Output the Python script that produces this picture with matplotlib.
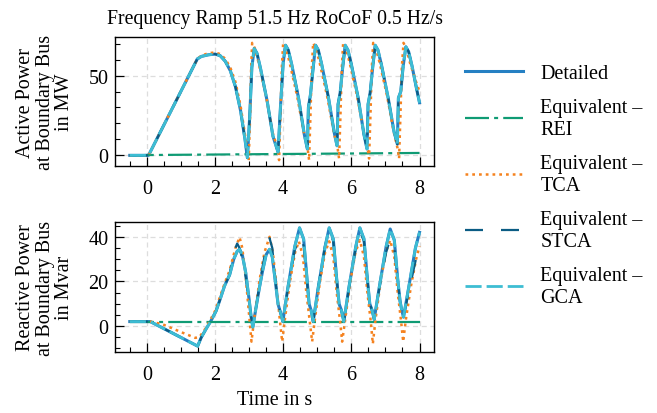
import matplotlib
matplotlib.use("Agg")
import matplotlib.pyplot as plt
from matplotlib.ticker import AutoMinorLocator

plt.rcParams['font.family'] = ['Liberation Serif', 'DejaVu Serif']
plt.rcParams['mathtext.fontset'] = 'stix'

# ---------------- data ----------------
title = "Frequency Ramp 51.5 Hz RoCoF 0.5 Hz/s"
labels = ["Detailed", "Equivalent –\nREI", "Equivalent –\nTCA",
          "Equivalent –\nSTCA", "Equivalent –\nGCA"]

# Active power, Detailed (also followed by STCA and GCA)
t_p_det = [-0.5, 0.05, 1.48, 1.6, 1.8, 2.0, 2.15, 2.3, 2.45, 2.6, 2.75, 2.88, 2.95,
           3.02, 3.08, 3.15, 3.23, 3.33, 3.53, 3.70, 3.85,
           3.92, 4.0, 4.07, 4.15, 4.25, 4.45, 4.62, 4.71,
           4.74, 4.80, 4.88, 4.95, 5.03, 5.13, 5.33, 5.50, 5.58,
           5.61, 5.67, 5.75, 5.82, 5.90, 6.0, 6.2, 6.37, 6.46,
           6.49, 6.55, 6.63, 6.70, 6.78, 6.88, 7.08, 7.25, 7.35,
           7.38, 7.45, 7.52, 7.60, 7.68, 7.78, 7.92, 8.0]
p_det = [0, 0, 60.4, 62, 63, 63.5, 62.5, 59, 53, 43, 28, 10, -1.5,
         25, 55, 67, 64, 55, 34, 12, 2,
         30, 58, 69, 66, 57, 36, 13, 4,
         30, 38, 55, 69, 66, 57, 36, 14, 6,
         32, 39, 56, 69, 66, 57, 36, 13, 4,
         32, 39, 56, 69, 66, 57, 36, 15, 7,
         36, 40, 56, 68, 65, 56, 41, 33]

t_p_stca = t_p_det
p_stca = [0, 0, 60.4, 62, 63, 63.5, 62.5, 59, 53, 43, 28, 10, -1.5,
          25, 55, 67, 64, 55, 34, 12, 2,
          30, 58, 69, 66, 57, 36, 13, 4,
          30, 38, 55, 69, 66, 57, 36, 14, 6,
          32, 39, 56, 69, 66, 57, 36, 13, 4,
          32, 39, 56, 69, 66, 57, 36, 15, 7,
          36, 40, 56, 68, 65, 56, 41, 33]
t_p_gca = t_p_det
p_gca = p_det

t_p_tca = [-0.5, 0.05, 1.48, 1.6, 1.8, 2.0, 2.15, 2.3, 2.45, 2.6, 2.75, 2.88, 2.95, 2.99,
           3.03, 3.06, 3.09, 3.17, 3.28, 3.5, 3.68, 3.84, 3.88,
           3.92, 3.96, 4.0, 4.08, 4.19, 4.41, 4.6, 4.72, 4.76,
           4.80, 4.84, 4.88, 4.96, 5.07, 5.29, 5.48, 5.6, 5.64,
           5.68, 5.72, 5.76, 5.84, 5.95, 6.17, 6.36, 6.48, 6.52,
           6.56, 6.60, 6.64, 6.72, 6.83, 7.05, 7.24, 7.36, 7.40,
           7.44, 7.48, 7.53, 7.61, 7.72, 7.9, 8.0]
p_tca = [0, 0, 60.4, 62.5, 64, 64.5, 63.5, 60.5, 55, 46, 31, 13, 3, -3,
         25, 55, 70.5, 67, 58, 37, 15, 4, -3,
         25, 55, 70.5, 67, 58, 37, 15, 4, -3,
         25, 55, 70.5, 67, 58, 37, 15, 4, -2,
         25, 55, 70.5, 67, 58, 37, 15, 4, -2,
         25, 55, 70.5, 67, 58, 37, 15, 4, -2,
         25, 55, 70.5, 67, 58, 46, 40]

t_p_rei = [-0.5, 0.0, 8.0]
p_rei = [0, 0.2, 1.5]

# Reactive power
t_q_det = [-0.5, 0.1, 1.49, 1.6, 1.75, 1.88, 2.03, 2.15, 2.28, 2.43, 2.55, 2.65, 2.72, 2.8, 2.9, 3.0, 3.06, 3.11,
           3.2, 3.3, 3.4, 3.5, 3.6, 3.68, 3.77, 3.85, 3.94, 3.99,
           4.14, 4.34, 4.48, 4.6, 4.7, 4.76, 4.82, 4.88,
           5.03, 5.23, 5.35, 5.47, 5.57, 5.64, 5.71, 5.78,
           5.93, 6.13, 6.25, 6.37, 6.47, 6.54, 6.61, 6.67,
           6.82, 7.02, 7.14, 7.26, 7.36, 7.43, 7.48, 7.53,
           7.68, 7.88, 8.0]
q_det = [2, 2, -9, -5, -1, 2.3, 6.7, 12, 18, 23, 30, 33.5, 34.4, 32, 24, 12, 4, -0.5,
         8, 17, 25, 32, 34.4, 31, 20, 9.8, 5, 2,
         17.4, 35.6, 44, 39, 21, 10, 7, 2,
         17.4, 35.6, 44, 39, 21, 10, 7, 2,
         17.4, 35.6, 44, 39, 21, 10, 7, 3,
         17.4, 35.6, 43.5, 38.5, 21, 11, 7, 4,
         17, 35, 42]

t_q_stca = t_q_det
q_stca = [2, 2, -9, -5, -1, 2.3, 6.7, 12, 18, 23, 33, 37, 35, 30, 22, 11, 4, -0.5,
          8, 18, 27, 35, 39.4, 35, 21, 10, 5, 2,
          17, 34, 40, 36, 20, 10, 7, 2,
          17.4, 36, 43, 38, 21, 10, 7, 2,
          17, 35, 42.5, 38, 21, 10, 7, 3,
          17, 33, 39, 35, 20, 11, 7, 4,
          15, 29, 36]
t_q_gca = t_q_det
q_gca = q_det

t_q_tca = [-0.5, 0.1, 0.46, 1.05, 1.42, 1.54, 1.74, 2.0, 2.28, 2.43, 2.6, 2.72, 2.8, 2.9, 3.0, 3.07,
           3.14, 3.3, 3.45, 3.6, 3.7, 3.8, 3.9, 3.97,
           4.05, 4.2, 4.35, 4.46, 4.58, 4.68, 4.78, 4.85,
           4.93, 5.08, 5.23, 5.35, 5.47, 5.57, 5.67, 5.73,
           5.82, 5.97, 6.12, 6.25, 6.37, 6.47, 6.57, 6.63,
           6.71, 6.86, 7.01, 7.14, 7.26, 7.36, 7.46, 7.52,
           7.6, 7.75, 7.9, 8.0]
q_tca = [2, 2, 0.8, -3, -5.3, -5, -0.7, 6.7, 19, 25, 35, 39.8, 35, 22, 5, -7,
         2, 20, 33, 40, 33, 18, 3, -7,
         3, 20, 33, 38, 31, 15, 2, -7,
         3, 20, 33, 38, 31, 15, 2, -7,
         3, 20, 33, 38.5, 31, 15, 2, -8,
         3, 20, 33, 38.5, 31, 15, 2, -7,
         3, 18, 30, 35.8]

t_q_rei = [-0.5, 8.0]
q_rei = [2, 2]

xticks = [0, 2, 4, 6, 8]
yticks_p = [0, 50]
yticks_q = [0, 20, 40]

# ---------------- styles ----------------
c_det, c_rei, c_tca, c_stca, c_gca = '#2580c3', '#0f9b74', '#f5821f', '#0b5c84', '#3dbdd3'
lw = 1.6
fs = 14.5

fig = plt.figure(figsize=(6.57, 4.14), dpi=100)
ax1 = fig.add_axes([0.1755, 0.5966, 0.4851, 0.3116])
ax2 = fig.add_axes([0.1755, 0.1473, 0.4851, 0.3141])

def draw(ax, det, rei, tca, stca, gca):
    h = []
    h += ax.plot(*det, color=c_det, lw=2.2, ls='-')
    h += ax.plot(*rei, color=c_rei, lw=lw, dashes=(10.8, 2.3, 1.8, 2.3))
    h += ax.plot(*tca, color=c_tca, lw=1.8, dashes=(1.1, 1.6))
    h += ax.plot(*stca, color=c_stca, lw=lw, dashes=(8.1, 8.1))
    h += ax.plot(*gca, color=c_gca, lw=2.0, dashes=(5.8, 1.8))
    return h

handles = draw(ax1, (t_p_det, p_det), (t_p_rei, p_rei), (t_p_tca, p_tca),
               (t_p_stca, p_stca), (t_p_gca, p_gca))
draw(ax2, (t_q_det, q_det), (t_q_rei, q_rei), (t_q_tca, q_tca),
     (t_q_stca, q_stca), (t_q_gca, q_gca))

for ax, yt in ((ax1, yticks_p), (ax2, yticks_q)):
    ax.set_xticks(xticks)
    ax.set_yticks(yt)
    ax.xaxis.set_minor_locator(AutoMinorLocator())
    ax.yaxis.set_minor_locator(AutoMinorLocator())
    ax.tick_params(which='both', direction='in', labelsize=fs, top=False, right=False)
    ax.tick_params(which='major', length=6.5, width=0.9)
    ax.tick_params(which='minor', length=3.5, width=0.8)
    ax.tick_params(axis='x', which='both', pad=9.5)
    ax.tick_params(axis='y', which='both', pad=5)
    ax.grid(True, which='major', ls=(0, (4, 3)), color='#dddddd', lw=0.9)
    ax.set_axisbelow(True)
    for s in ax.spines.values():
        s.set_linewidth(1.0)
    ax.margins(x=0.05, y=0.05)

ax1.set_title(title, fontsize=14.2, pad=10)
ax1.set_ylabel("Active Power\nat Boundary Bus\nin MW", fontsize=fs, linespacing=1.05, labelpad=10)
ax2.set_ylabel("Reactive Power\nat Boundary Bus\nin Mvar", fontsize=fs, linespacing=1.05, labelpad=10)
ax2.set_xlabel("Time in s", fontsize=fs, labelpad=4)
ax1.tick_params(labelbottom=True)

fig.legend(handles, labels, loc='upper left', bbox_to_anchor=(0.680, 0.887),
           frameon=False, fontsize=fs, handlelength=2.9, labelspacing=0.75,
           handletextpad=0.85)

fig.savefig("out.png", dpi=100)
